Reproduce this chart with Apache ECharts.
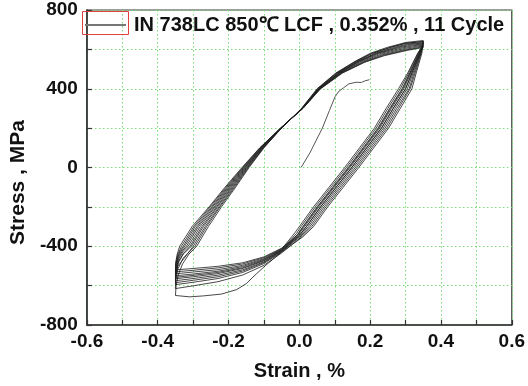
<!DOCTYPE html>
<html>
<head>
<meta charset="utf-8">
<script src="https://cdn.jsdelivr.net/npm/echarts@6/dist/echarts.min.js"></script>
<style>
html,body{margin:0;padding:0;background:#fff;}
#chart{width:528px;height:386px;}
</style>
</head>
<body>
<div id="chart"></div>
<script>
// ---- Data (strain %, stress MPa) ----
const legendTitle = "IN 738LC 850℃ LCF , 0.352% , 11 Cycle";
const xTicks = [-0.6, -0.4, -0.2, 0.0, 0.2, 0.4, 0.6];
const yTicks = [-800, -400, 0, 400, 800];

const initialLoading = [[0.005,0],[0.030,75],[0.065,200],[0.085,290],[0.101,360],[0.112,388],[0.125,405],[0.140,425],[0.160,433],[0.175,432],[0.185,440],[0.198,446]];

const d1 = [[0.350,615],[0.340,575],[0.318,480],[0.300,400],[0.265,300],[0.232,200],[0.190,100],[0.148,0],[0.104,-100],[0.060,-200],[0.020,-300],[0.000,-345],[-0.050,-428],[-0.095,-497],[-0.122,-541],[-0.150,-590],[-0.177,-620],[-0.220,-643],[-0.270,-652],[-0.310,-657],[-0.350,-650]];
const a1 = [[-0.350,-650],[-0.348,-600],[-0.342,-545],[-0.330,-490],[-0.312,-440],[-0.290,-400],[-0.257,-300],[-0.220,-200],[-0.180,-100],[-0.142,0],[-0.100,100],[-0.051,200],[0.007,300],[0.052,400],[0.105,480],[0.160,540],[0.205,580],[0.258,610],[0.300,632],[0.350,640]];
const d2 = [[0.350,640],[0.344,580],[0.327,480],[0.313,400],[0.280,300],[0.247,200],[0.205,100],[0.163,0],[0.119,-100],[0.075,-200],[0.035,-300],[0.008,-350],[-0.050,-434],[-0.100,-497],[-0.160,-546],[-0.230,-580],[-0.300,-601],[-0.350,-615]];
const a2 = [[-0.350,-615],[-0.349,-570],[-0.343,-515],[-0.328,-460],[-0.295,-400],[-0.262,-300],[-0.224,-200],[-0.183,-100],[-0.144,0],[-0.101,100],[-0.050,200],[0.006,300],[0.050,400],[0.103,480],[0.158,540],[0.200,580],[0.248,610],[0.300,635],[0.350,645]];
const d3 = [[0.350,645],[0.346,580],[0.330,480],[0.318,400],[0.285,300],[0.252,200],[0.210,100],[0.168,0],[0.124,-100],[0.080,-200],[0.040,-300],[0.010,-352],[-0.050,-429],[-0.100,-488],[-0.160,-533],[-0.230,-564],[-0.300,-583],[-0.350,-595]];
const a3 = [[-0.350,-595],[-0.349,-550],[-0.343,-500],[-0.325,-460],[-0.300,-400],[-0.266,-300],[-0.227,-200],[-0.186,-100],[-0.146,0],[-0.102,100],[-0.051,200],[0.007,300],[0.052,400],[0.106,480],[0.162,540],[0.207,580],[0.256,610],[0.300,630],[0.350,640]];
const d4 = [[0.350,640],[0.343,580],[0.324,480],[0.310,400],[0.275,300],[0.242,200],[0.200,100],[0.158,0],[0.114,-100],[0.070,-200],[0.030,-300],[0.005,-348],[-0.050,-426],[-0.100,-483],[-0.160,-526],[-0.230,-555],[-0.300,-573],[-0.350,-585]];
const a4 = [[-0.350,-585],[-0.349,-540],[-0.342,-485],[-0.328,-440],[-0.305,-400],[-0.271,-300],[-0.231,-200],[-0.189,-100],[-0.148,0],[-0.104,100],[-0.052,200],[0.008,300],[0.054,400],[0.109,480],[0.166,540],[0.214,580],[0.268,610],[0.305,627],[0.350,635]];
const d5 = [[0.350,635],[0.339,580],[0.315,480],[0.295,400],[0.260,300],[0.227,200],[0.185,100],[0.143,0],[0.099,-100],[0.055,-200],[0.015,-300],[-0.003,-343],[-0.050,-424],[-0.100,-479],[-0.160,-520],[-0.230,-547],[-0.300,-564],[-0.350,-575]];
const a5 = [[-0.350,-575],[-0.349,-530],[-0.341,-475],[-0.327,-435],[-0.309,-400],[-0.275,-300],[-0.234,-200],[-0.192,-100],[-0.150,0],[-0.105,100],[-0.052,200],[0.008,300],[0.055,400],[0.111,480],[0.168,540],[0.218,580],[0.276,610],[0.310,625],[0.350,632]];
const d6 = [[0.350,632],[0.342,580],[0.321,480],[0.305,400],[0.270,300],[0.237,200],[0.195,100],[0.153,0],[0.109,-100],[0.065,-200],[0.025,-300],[0.003,-346],[-0.050,-421],[-0.100,-474],[-0.160,-513],[-0.230,-539],[-0.300,-555],[-0.350,-565]];
const a6 = [[-0.350,-565],[-0.349,-520],[-0.341,-465],[-0.328,-425],[-0.314,-400],[-0.280,-300],[-0.238,-200],[-0.195,-100],[-0.152,0],[-0.106,100],[-0.052,200],[0.008,300],[0.055,400],[0.112,480],[0.170,540],[0.222,580],[0.285,610],[0.315,621],[0.350,628]];
const d7 = [[0.350,628],[0.337,580],[0.312,480],[0.290,400],[0.255,300],[0.222,200],[0.180,100],[0.138,0],[0.094,-100],[0.050,-200],[0.010,-300],[-0.005,-340],[-0.050,-420],[-0.100,-471],[-0.160,-509],[-0.230,-533],[-0.300,-548],[-0.350,-558]];
const a7 = [[-0.350,-558],[-0.349,-512],[-0.342,-460],[-0.331,-425],[-0.319,-400],[-0.285,-300],[-0.241,-200],[-0.198,-100],[-0.154,0],[-0.107,100],[-0.052,200],[0.009,300],[0.056,400],[0.114,480],[0.174,540],[0.226,578],[0.292,608],[0.320,618],[0.350,625]];
const d8 = [[0.350,625],[0.335,580],[0.309,480],[0.285,400],[0.250,300],[0.217,200],[0.175,100],[0.133,0],[0.089,-100],[0.045,-200],[0.005,-300],[-0.008,-335],[-0.050,-417],[-0.100,-467],[-0.160,-503],[-0.230,-527],[-0.300,-541],[-0.350,-550]];
const a8 = [[-0.350,-550],[-0.349,-505],[-0.343,-455],[-0.334,-425],[-0.324,-400],[-0.289,-300],[-0.245,-200],[-0.201,-100],[-0.156,0],[-0.108,100],[-0.053,200],[0.009,300],[0.057,400],[0.116,480],[0.177,538],[0.230,575],[0.298,605],[0.325,614],[0.350,622]];
const d9 = [[0.350,622],[0.334,580],[0.306,480],[0.280,400],[0.245,300],[0.212,200],[0.170,100],[0.128,0],[0.084,-100],[0.040,-200],[0.000,-300],[-0.012,-330],[-0.050,-415],[-0.100,-463],[-0.160,-497],[-0.230,-519],[-0.300,-531],[-0.350,-540]];
const a9 = [[-0.350,-540],[-0.349,-497],[-0.343,-450],[-0.336,-422],[-0.328,-400],[-0.294,-300],[-0.248,-200],[-0.204,-100],[-0.158,0],[-0.110,100],[-0.053,200],[0.009,300],[0.058,400],[0.118,480],[0.180,536],[0.234,572],[0.300,600],[0.328,610],[0.350,618]];
const d10 = [[0.350,618],[0.340,580],[0.318,480],[0.300,400],[0.265,300],[0.232,200],[0.190,100],[0.148,0],[0.104,-100],[0.060,-200],[0.020,-300],[0.000,-345],[-0.050,-412],[-0.100,-458],[-0.160,-490],[-0.230,-510],[-0.300,-522],[-0.350,-530]];
const a10 = [[-0.350,-530],[-0.349,-488],[-0.344,-445],[-0.338,-420],[-0.333,-400],[-0.298,-300],[-0.252,-200],[-0.207,-100],[-0.160,0],[-0.111,100],[-0.053,200],[0.010,300],[0.059,400],[0.120,480],[0.183,535],[0.238,570],[0.302,597],[0.330,606],[0.350,614]];
const d11 = [[0.350,614],[0.338,580],[0.313,480],[0.292,400],[0.257,300],[0.224,200],[0.182,100],[0.140,0],[0.096,-100],[0.052,-200],[0.012,-300],[-0.004,-340],[-0.050,-410],[-0.100,-454],[-0.160,-484],[-0.230,-502],[-0.300,-513],[-0.350,-520]];
const a11 = [[-0.350,-520],[-0.349,-480],[-0.345,-440],[-0.338,-400],[-0.303,-300],[-0.255,-200],[-0.210,-100],[-0.162,0],[-0.112,100],[-0.053,200],[0.010,300],[0.060,400],[0.122,480],[0.185,535],[0.240,568],[0.305,595],[0.332,604],[0.350,610]];

const cyclePath = [].concat(d1,a1,d2,a2,d3,a3,d4,a4,d5,a5,d6,a6,d7,a7,d8,a8,d9,a9,d10,a10,d11,a11);

// ---- Chart ----
const FONT = '"Liberation Sans", Arial, sans-serif';
const chart = echarts.init(document.getElementById('chart'), null, {renderer:'canvas'});
const gridCol = '#74dc74';
chart.setOption({
  animation: false,
  backgroundColor: '#ffffff',
  grid: {left: 81, top: 10, right: 14, bottom: 59, show: true, borderColor: '#3a3a3a', borderWidth: 1.2, backgroundColor: 'transparent'},
  legend: {
    data: [legendTitle], left: 85, top: 15, padding: 0, itemWidth: 41, itemHeight: 2, itemGap: 0,
    icon: 'rect', itemStyle: {color: '#777'},
    textStyle: {fontFamily: FONT, fontWeight: 'bold', fontSize: 20, color: '#111', padding: [0,0,0,3]}
  },
  graphic: [{type: 'rect', shape: {x: 82.5, y: 11.5, width: 46, height: 23}, style: {fill: 'none', stroke: '#e04040', lineWidth: 1}, z: 100}],
  xAxis: {
    type: 'value', min: -0.6, max: 0.6, interval: 0.1,
    name: 'Strain , %', nameLocation: 'middle', nameGap: 36,
    nameTextStyle: {fontFamily: FONT, fontWeight: 'bold', fontSize: 20, color: '#111'},
    axisLine: {show: true, onZero: false, lineStyle: {color: '#333', width: 1.6}},
    axisTick: {show: true, inside: true, length: 5, lineStyle: {color: '#333', width: 1.2}},
    axisLabel: {margin: 7, fontFamily: FONT, fontWeight: 'bold', fontSize: 19, color: '#111',
      formatter: v => { const r = Math.round(v*10); return (r % 2 === 0) ? (r/10).toFixed(1) : ''; }},
    splitLine: {show: true, lineStyle: {color: gridCol, width: 1, type: [1.5, 2.5]}}
  },
  yAxis: {
    type: 'value', min: -800, max: 800, interval: 200,
    name: 'Stress , MPa', nameLocation: 'middle', nameGap: 57, nameRotate: 90,
    nameTextStyle: {fontFamily: FONT, fontWeight: 'bold', fontSize: 21, color: '#111', padding: [0, 30, 0, 0]},
    axisLine: {show: true, onZero: false, lineStyle: {color: '#333', width: 1.6}},
    axisTick: {show: true, inside: true, length: 5, lineStyle: {color: '#333', width: 1.2}},
    axisLabel: {margin: 9, fontFamily: FONT, fontWeight: 'bold', fontSize: 19, color: '#111',
      formatter: v => { const r = Math.round(v); return (r % 400 === 0) ? String(r) : ''; }},
    splitLine: {show: true, lineStyle: {color: gridCol, width: 1, type: [1.5, 2.5]}}
  },
  series: [
    {name: legendTitle, type: 'line', data: cyclePath, showSymbol: false, symbol: 'none',
     lineStyle: {color: '#1e1e1e', width: 0.9, opacity: 0.9}, itemStyle: {color: '#777'}, z: 3},
    {name: 'initial', type: 'line', data: initialLoading, showSymbol: false, symbol: 'none',
     lineStyle: {color: '#555', width: 1}, z: 3}
  ]
});
</script>
</body>
</html>
